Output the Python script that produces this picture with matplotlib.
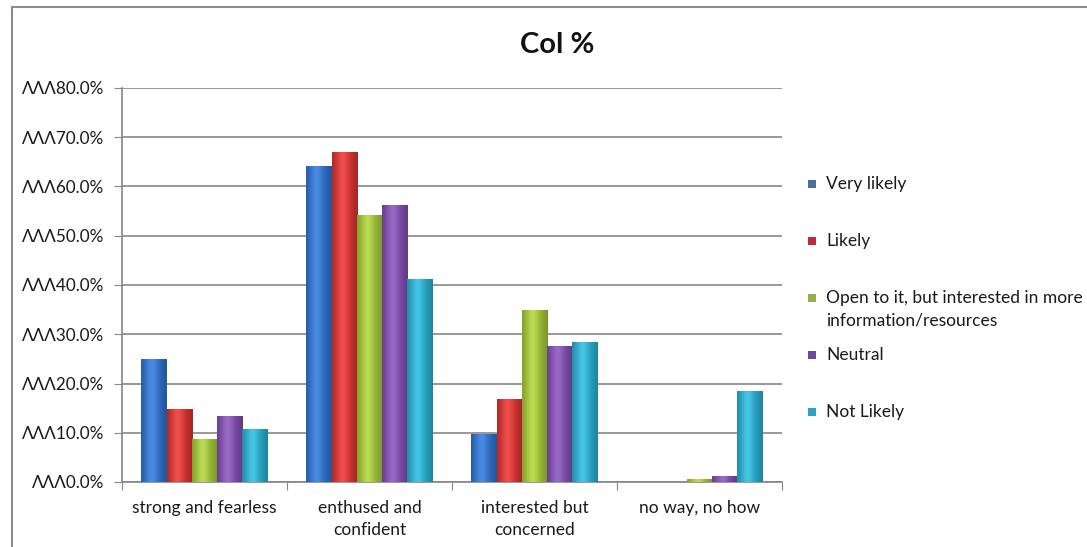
import numpy as np
import matplotlib
matplotlib.use("Agg")
import matplotlib.pyplot as plt
from matplotlib.patches import Rectangle
from matplotlib.lines import Line2D
from matplotlib.colors import to_rgb

plt.rcParams['font.family'] = ['Lato', 'DejaVu Sans']

categories = ["strong and fearless", "enthused and\nconfident",
              "interested but\nconcerned", "no way, no how"]
series_names = ["Very likely", "Likely",
                "Open to it, but interested in more\ninformation/resources",
                "Neutral", "Not Likely"]
very_likely = [25.0, 64.2, 9.8, 0.0]
likely = [14.9, 67.1, 16.9, 0.0]
open_to_it = [8.7, 54.3, 35.0, 0.7]
neutral = [13.5, 56.3, 27.7, 1.2]
not_likely = [10.7, 41.3, 28.4, 18.5]
series_values = [very_likely, likely, open_to_it, neutral, not_likely]
colors = ["#2c6cc4", "#d0302e", "#9cbc34", "#7a4aa8", "#27a6c6"]
legend_colors = ["#4a6f9a", "#c0283a", "#92b04a", "#6a4a9a", "#30a0c0"]
y_ticks = [0, 10, 20, 30, 40, 50, 60, 70, 80]
y_tick_labels = ["ΛΛΛ%.1f%%" % v for v in y_ticks]

W, H = 1087, 547
TXT = "#1a1a1a"
fig = plt.figure(figsize=(W / 100, H / 100), dpi=100)
fig.patch.set_facecolor("white")

# chart frame (left and top edges)
fig.add_artist(Line2D([12 / W, 12 / W], [0, 1 - 7 / H], color="#8c8c8c", lw=1.5))
fig.add_artist(Line2D([12 / W, 1], [1 - 7 / H, 1 - 7 / H], color="#8c8c8c", lw=1.5))

ax = fig.add_axes([122 / W, 1 - 482 / H, 660 / W, 394 / H])
n_cat = len(categories)
n_ser = len(series_values)
x = np.arange(n_cat)
group_w = 0.764
bar_w = group_w / n_ser

for i, (vals, col) in enumerate(zip(series_values, colors)):
    offs = -group_w / 2 + bar_w * (i + 0.5)
    bars = ax.bar(x + offs, vals, width=bar_w, color=col, zorder=3, linewidth=0)
    base = np.array(to_rgb(col))
    # horizontal shading across each bar: darker edges, lighter centre
    t = np.linspace(0, 1, 40)
    shade = 1 - 0.18 * (np.abs(t - 0.45) * 2) ** 1.5
    light = 0.12 * np.exp(-((t - 0.4) / 0.25) ** 2)
    grad = np.clip(base[None, :] * shade[:, None] + light[:, None], 0, 1)
    for b in bars:
        h = b.get_height()
        if h <= 0:
            continue
        im = ax.imshow(grad[None, :, :], aspect="auto", zorder=3.5,
                       extent=[b.get_x(), b.get_x() + b.get_width(), 0, h],
                       interpolation="bilinear")
        im.set_clip_path(b)

ax.set_xlim(-0.5, n_cat - 0.5)
ax.set_ylim(0, 80)

ax.set_yticks(y_ticks)
ax.set_yticklabels(y_tick_labels, fontsize=12.3, color=TXT)
ax.yaxis.grid(True, color="#868686", lw=1.2, zorder=1)
ax.set_axisbelow(True)
ax.tick_params(axis="y", length=6, color="#868686", pad=7)

ax.set_xticks(np.arange(n_cat + 1) - 0.5)
ax.set_xticklabels([])
ax.tick_params(axis="x", length=6, color="#868686")
for xi, lab in zip(x, categories):
    ax.text(xi, -3.7, lab, ha="center", va="top", fontsize=12.5,
            color=TXT, linespacing=1.45)

for s in ["top", "right"]:
    ax.spines[s].set_visible(False)
for s in ["left", "bottom"]:
    ax.spines[s].set_color("#868686")
    ax.spines[s].set_linewidth(1.2)

fig.text(557 / W, 1 - 45 / H, "Col %", ha="center", va="center",
         fontsize=21, fontweight="bold", color="#111111")

# legend: square key plus label, multi-line labels wrap below the first line
leg_y = [184, 241, 298, 355, 412]
for name, col, yy in zip(series_names, legend_colors, leg_y):
    fig.add_artist(Rectangle((808 / W, 1 - (yy + 4) / H), 8 / W, 8 / H,
                             facecolor=col, edgecolor="none",
                             transform=fig.transFigure))
    for k, ln in enumerate(name.split("\n")):
        fig.text(826 / W, 1 - (yy + 22 * k) / H, ln, ha="left", va="center",
                 fontsize=12.5, color=TXT)

fig.savefig("out.png", dpi=100, facecolor="white")
